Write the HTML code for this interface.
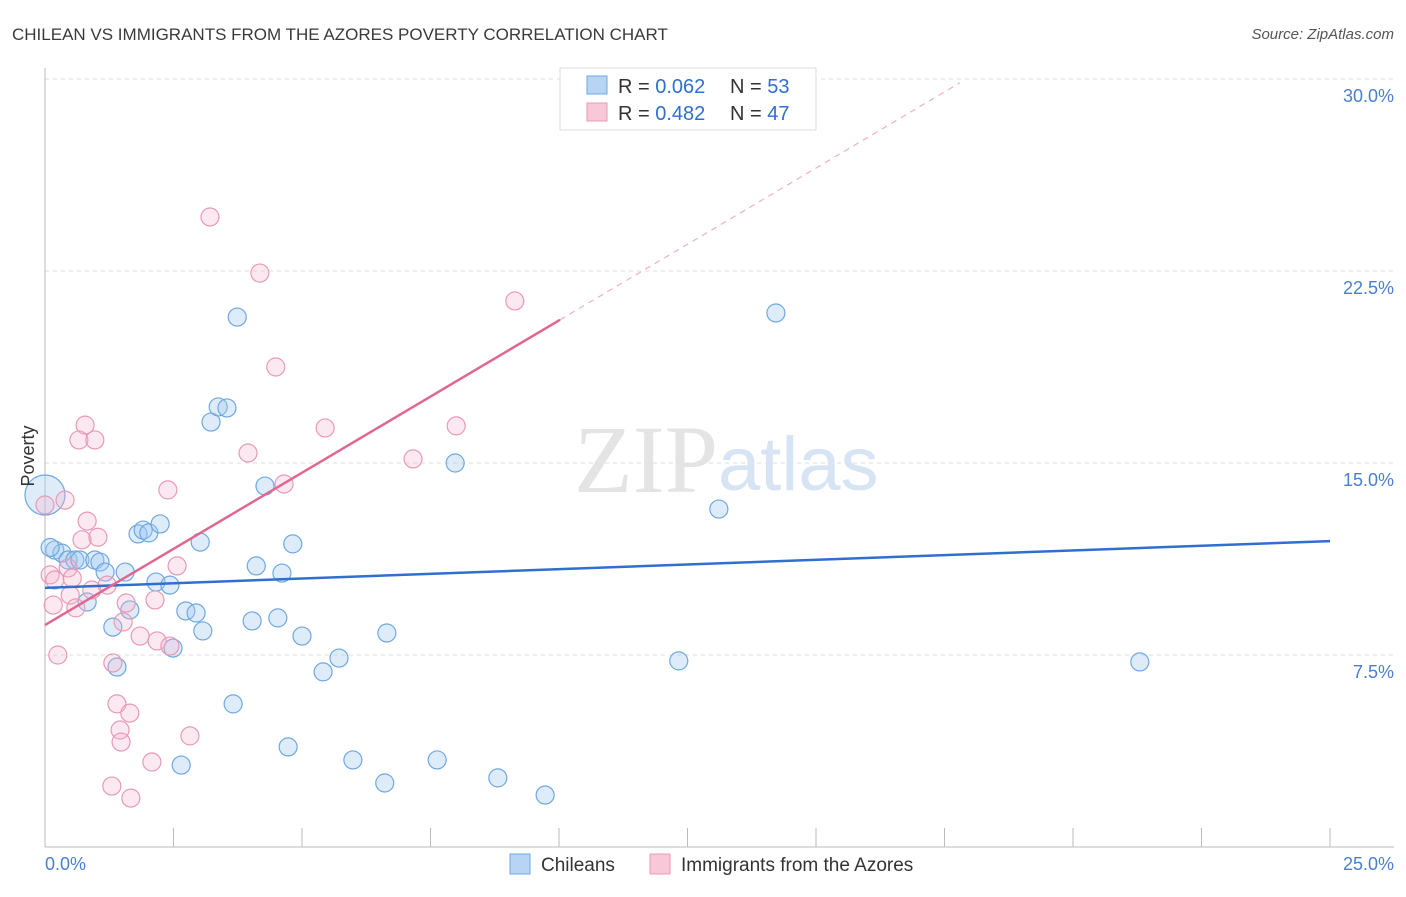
<!DOCTYPE html>
<html><head><meta charset="utf-8"><style>
body{margin:0;background:#fff;font-family:"Liberation Sans",sans-serif;}
</style></head><body>
<svg width="1406" height="892" viewBox="0 0 1406 892" xmlns="http://www.w3.org/2000/svg">
<text x="12" y="40" font-size="17" fill="#3a3a3a">CHILEAN VS IMMIGRANTS FROM THE AZORES POVERTY CORRELATION CHART</text>
<text x="1394" y="39" font-size="15" fill="#555" font-style="italic" text-anchor="end">Source: ZipAtlas.com</text>
<g id="grid"></g>
<text x="718" y="492" font-size="96" fill="#e4e4e4" text-anchor="end" font-family="Liberation Serif">ZIP</text>
<text x="718" y="490" font-size="76" fill="#d6e4f4">atlas</text>
<g id="pts"></g>
<g id="lines"></g>
<text x="34" y="456" font-size="18" fill="#333" text-anchor="middle" transform="rotate(-90 34 456)">Poverty</text>
<text x="45" y="870" font-size="18" fill="#4a7fd0">0.0%</text>
<text x="1394" y="870" font-size="18" fill="#4a7fd0" text-anchor="end">25.0%</text>
<g>
<rect x="560" y="68" width="256" height="62" fill="#fff" stroke="#ddd"/>
<rect x="587" y="76" width="20" height="18" fill="#b8d4f4" stroke="#6fa8e0"/>
<rect x="587" y="103" width="20" height="18" fill="#f8c8d8" stroke="#e89ab5"/>
<text x="618" y="93" font-size="20" fill="#333">R = <tspan fill="#2f6fd0">0.062</tspan></text>
<text x="730" y="93" font-size="20" fill="#333">N = <tspan fill="#2f6fd0">53</tspan></text>
<text x="618" y="120" font-size="20" fill="#333">R = <tspan fill="#2f6fd0">0.482</tspan></text>
<text x="730" y="120" font-size="20" fill="#333">N = <tspan fill="#2f6fd0">47</tspan></text>
</g>
<g>
<rect x="510" y="854" width="20" height="20" fill="#b8d4f4" stroke="#6fa8e0"/>
<text x="541" y="871" font-size="19" fill="#333">Chileans</text>
<rect x="650" y="854" width="20" height="20" fill="#f8c8d8" stroke="#e89ab5"/>
<text x="681" y="871" font-size="19" fill="#333">Immigrants from the Azores</text>
</g>
</svg>
<script>
const yTicks=[7.5,15,22.5,30];
const xTicks=[0,2.5,5,7.5,10,12.5,15,17.5,20,22.5,25];
const blueX=[0,0.19,0.33,0.45,0.58,0.68,0.97,1.07,0.82,1.17,1.56,1.32,1.40,1.65,1.81,1.91,2.02,2.24,2.16,2.43,2.65,2.74,2.94,3.02,3.07,2.49,3.23,3.37,3.54,3.66,3.74,4.03,4.11,4.28,4.61,4.53,4.73,4.82,5.00,5.41,5.72,5.99,6.61,6.65,7.63,7.98,8.81,9.73,12.33,13.11,14.22,21.30,0.1];
const blueY=[13.75,11.6,11.48,11.21,11.21,11.21,11.21,11.13,9.57,10.74,10.74,8.59,7.03,9.26,12.23,12.38,12.27,12.62,10.35,10.23,3.2,9.22,9.14,11.91,8.44,7.77,16.6,17.19,17.15,5.59,20.7,8.83,10.98,14.1,10.7,8.95,3.91,11.84,8.24,6.84,7.38,3.4,2.5,8.36,3.4,15.0,2.7,2.03,7.27,13.2,20.86,7.23,11.7];
const pinkX=[0,0.10,0.19,0.16,0.25,0.39,0.45,0.53,0.49,0.60,0.72,0.82,0.78,0.66,0.97,0.91,1.03,1.21,1.32,1.40,1.46,1.48,1.30,1.52,1.58,1.65,1.67,1.85,2.08,2.14,2.18,2.39,2.43,2.57,2.82,3.21,3.95,4.18,4.49,4.65,5.45,7.16,8.0,9.14];
const pinkY=[13.36,10.63,10.43,9.45,7.5,13.55,10.9,10.5,9.84,9.34,12.0,12.73,16.48,15.9,15.9,10.04,12.1,10.23,7.19,5.59,4.57,4.1,2.38,8.79,9.53,5.23,1.91,8.24,3.32,9.65,8.05,13.95,7.85,10.98,4.34,24.61,15.39,22.42,18.75,14.18,16.37,15.16,16.45,21.33];
const blueTrend=[10.12,11.95];
const pinkTrend=[8.67,1.19];
const NS='http://www.w3.org/2000/svg';
const sx=v=>45+v*51.4, sy=v=>847-v*25.6;
function mk(tag,attrs,parent){const e=document.createElementNS(NS,tag);for(const k in attrs)e.setAttribute(k,attrs[k]);parent.appendChild(e);return e;}
const grid=document.getElementById('grid');
yTicks.forEach(t=>{
 const l=mk('line',{x1:45,x2:1394,y1:sy(t),y2:sy(t),stroke:'#ddd','stroke-dasharray':'4,4'},grid);
 
 
 const tx=mk('text',{x:1394,y:sy(t)+23,'font-size':18,fill:'#4a7fd0','text-anchor':'end'},grid);
 tx.textContent=t.toFixed(1)+'%';
 
 
});
const ax=mk('line',{x1:45,x2:45,y1:68,y2:847,stroke:'#bbb'},grid);


const bx=mk('line',{x1:45,x2:1394,y1:847,y2:847,stroke:'#bbb'},grid);


xTicks.forEach(t=>{
 const l=mk('line',{x1:sx(t),x2:sx(t),y1:828,y2:847,stroke:'#bbb'},grid);
 
 
});
const pts=document.getElementById('pts');
blueX.forEach((x,i)=>{
 const c=mk('circle',{cx:sx(x),cy:sy(blueY[i]),r:i===0?20:9,fill:'rgba(160,200,240,0.35)',stroke:'#6fa8e0','stroke-width':1.2},pts);
 
 
});
pinkX.forEach((x,i)=>{
 const c=mk('circle',{cx:sx(x),cy:sy(pinkY[i]),r:9,fill:'rgba(245,180,205,0.3)',stroke:'#e89ab5','stroke-width':1.2},pts);
 
 
});
const lines=document.getElementById('lines');
const bl=mk('line',{x1:sx(0),y1:sy(blueTrend[0]),x2:sx(25),y2:sy(blueTrend[1]),stroke:'#2f6fd0','stroke-width':2.5},lines);


const pEnd=10.02, pDash=17.8;
const pl=mk('line',{x1:sx(0),y1:sy(pinkTrend[0]),x2:sx(pEnd),y2:sy(pinkTrend[0]+pinkTrend[1]*pEnd),stroke:'#e06890','stroke-width':2.5},lines);


const pd=mk('line',{x1:sx(pEnd),y1:sy(pinkTrend[0]+pinkTrend[1]*pEnd),x2:sx(pDash),y2:sy(pinkTrend[0]+pinkTrend[1]*pDash),stroke:'#f0b0c5','stroke-width':1.2,'stroke-dasharray':'6,5'},lines);


</script>
</body></html>
